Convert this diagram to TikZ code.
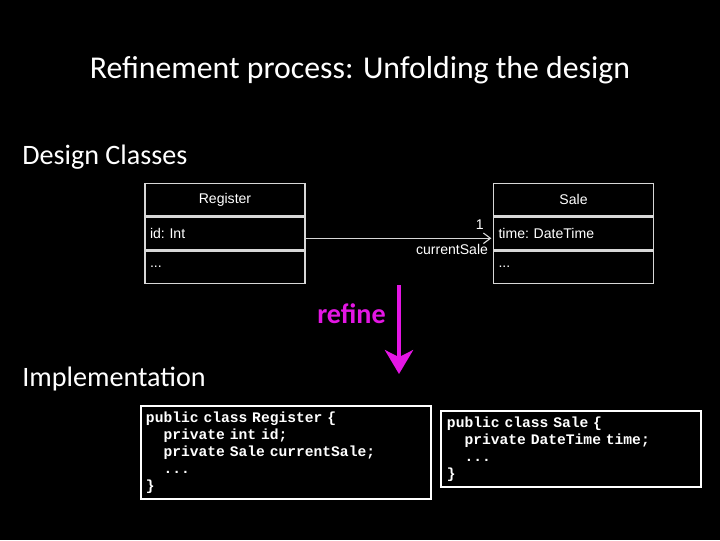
\documentclass[tikz,border=0pt]{standalone}
\usepackage{fontspec}
\usepackage{tikz}
\setmainfont{Carlito}
\setmonofont{Liberation Mono}
\newfontfamily\umlfont{Liberation Sans}
\usetikzlibrary{arrows.meta,positioning}
\definecolor{refinecol}{RGB}{228,22,228}
\definecolor{umlline}{RGB}{215,215,215}

\begin{document}
\begin{tikzpicture}[x=0.025cm,y=-0.025cm]
        % one pixel of the slide
        \newcommand{\px}{0.025cm}
        \tikzset{
          compart/.style={draw=umlline,line width=0.9pt,text=white,font=\umlfont\frenchspacing\fontsize{10}{12}\selectfont,
            text width=150*\px,inner xsep=5*\px,inner ysep=0pt,minimum height=32.6*\px,align=left},
          codebox/.style={draw=white,line width=1.4pt,text=white,font=\ttfamily\bfseries\frenchspacing\fontsize{10.4}{12.05}\selectfont,
            inner ysep=6*\px,align=left,anchor=north west},
          heading/.style={text=white,inner sep=0pt,font=\fontsize{20}{24}\selectfont}
        }

        % slide
        \fill[black] (0,0) rectangle (720,540);

        \node[heading,anchor=base,font=\fontsize{22.6}{27}\selectfont] (title) at (360,78) {Refinement process: Unfolding the design};
        \node[heading,anchor=base west] (design) at (22,164) {Design Classes};
        \node[heading,anchor=base west] (impl) at (22,386) {Implementation};

        % klasse Register
        \node[compart,align=center,anchor=north] (regname) at (225,182.5) {Register};
        \node[compart,below=0pt of regname] (regattr) {id: Int};
        \node[compart,below=0pt of regattr] (regrest) {...};

        % klasse Sale
        \node[compart,align=center,anchor=north] (salename) at (573.5,182.5) {Sale};
        \node[compart,below=0pt of salename] (saleattr) {time: DateTime};
        \node[compart,below=0pt of saleattr] (salerest) {...};

        % assoziation
        \draw[umlline,line width=0.8pt,-{Straight Barb[length=5pt,width=7.5pt]}]
          ([yshift=-5*\px]regattr.east) -- ([yshift=-5*\px,xshift=-1.5*\px]saleattr.west)
          node[pos=1,above left=6pt and 5pt,text=white,font=\umlfont\fontsize{10}{12}\selectfont,inner sep=0pt] (mult) {1}
          node[pos=1,below left=4pt and 2pt,text=white,font=\umlfont\fontsize{10}{12}\selectfont,inner sep=0pt] (role) {currentSale};

        % refine pfeil
        \coordinate (reftop) at (399,285);
        \coordinate (refbot) at (399,374);
        \draw[refinecol,line width=3.5pt,-{Stealth[length=17pt,width=20pt,inset=5pt]}] (reftop) -- (refbot);
        \node[anchor=base west,inner sep=0pt,text=refinecol,font=\bfseries\fontsize{20}{24}\selectfont] (refine) at (317,323) {refine};

        % code
        \node[codebox,text width=280*\px,inner xsep=5*\px,minimum height=92*\px] (regcode) at (140,405)
          {public class Register \{\\
           \hspace*{1.2em}private int id;\\
           \hspace*{1.2em}private Sale currentSale;\\
           \hspace*{1.2em}...\\
           \}};
        \node[codebox,text width=248*\px,inner xsep=6*\px,minimum height=76*\px] (salecode) at (440,410)
          {public class Sale \{\\
           \hspace*{1.2em}private DateTime time;\\
           \hspace*{1.2em}...\\
           \}};
\end{tikzpicture}
\end{document}
